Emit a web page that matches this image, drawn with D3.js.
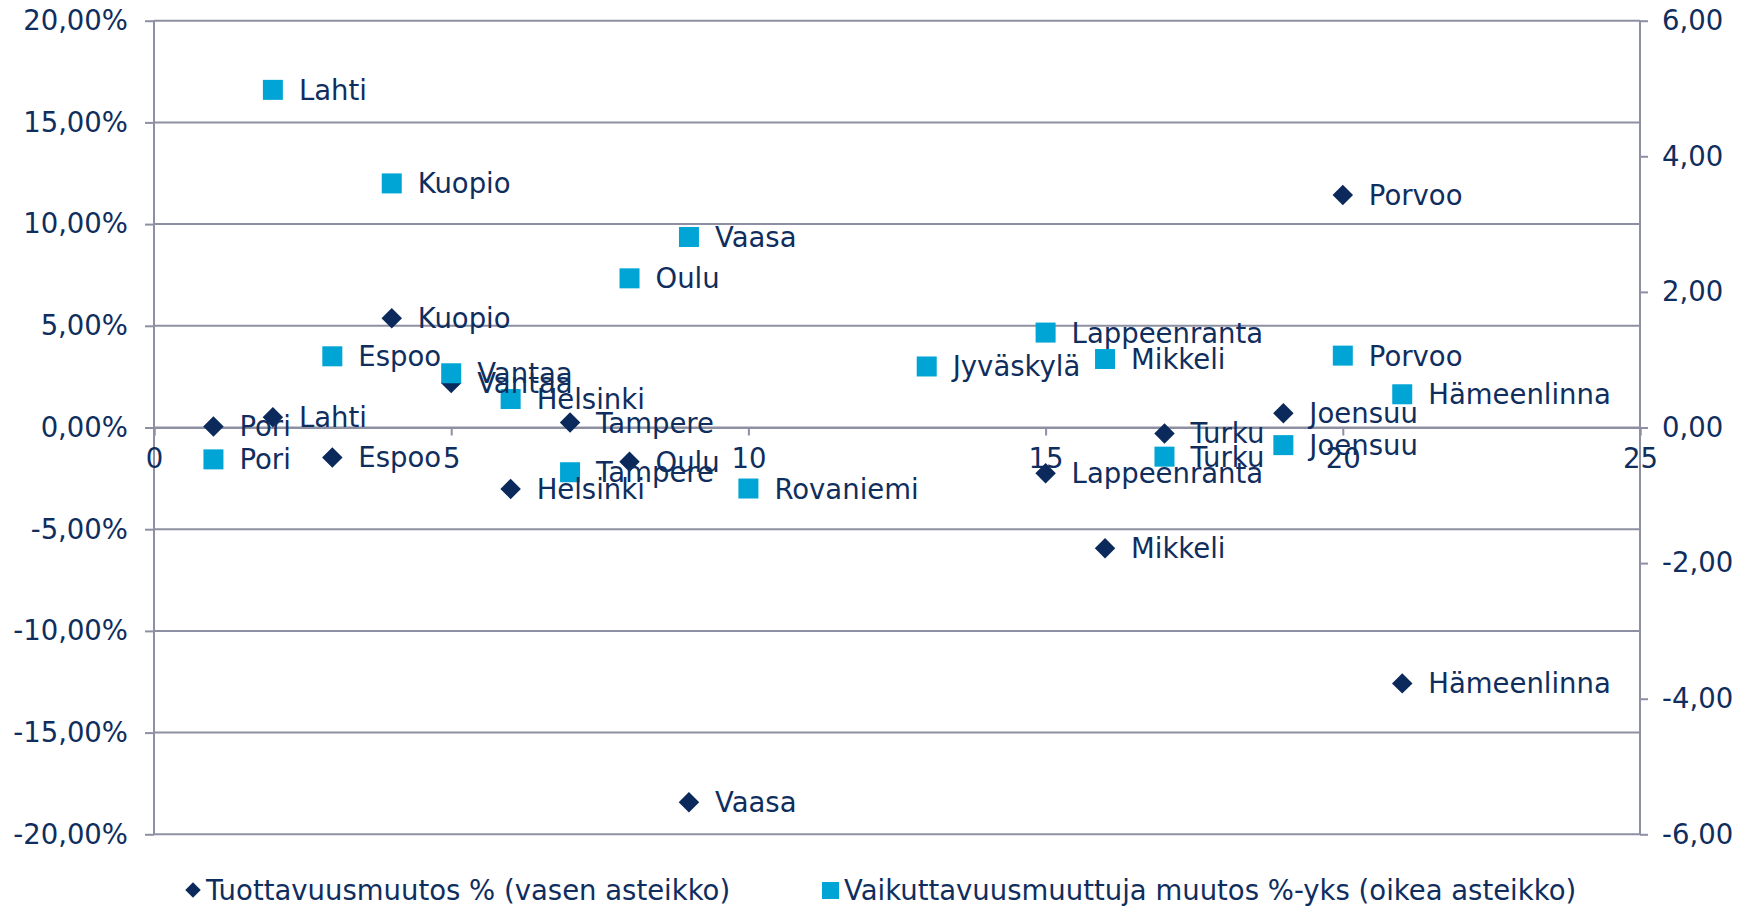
<!DOCTYPE html>
<html>
<head>
<meta charset="utf-8">
<script src="https://cdn.jsdelivr.net/npm/d3@7"></script>
<style>
  body { margin: 0; background: #fff; }
  text { font-family: "DejaVu Sans", Verdana, sans-serif; fill: #0f2e5e; }
</style>
</head>
<body>
<div id="chart"></div>
<script>
// city order and x position in the scatter
const cities = ["Pori", "Lahti", "Espoo", "Kuopio", "Vantaa", "Helsinki", "Tampere", "Oulu", "Vaasa",
  "Rovaniemi", "Jyväskylä", "Lappeenranta", "Mikkeli", "Turku", "Joensuu", "Porvoo", "Hämeenlinna"]
const xValues = [1, 2, 3, 4, 5, 6, 7, 8, 9, 10, 13, 15, 16, 17, 19, 20, 21]

// Tuottavuusmuutos % (left axis), null = no point
const tuottavuus = [0.05, 0.5, -1.47, 5.37, 2.19, -3.02, 0.24, -1.68, -18.43,
  null, null, -2.25, -5.94, -0.29, 0.70, 11.43, -12.58]

// Vaikuttavuusmuuttuja muutos %-yks (right axis)
const vaikuttavuus = [-0.47, 4.98, 1.05, 3.60, 0.80, 0.42, -0.66, 2.20, 2.81,
  -0.90, 0.90, 1.40, 1.01, -0.43, -0.26, 1.06, 0.49]

const leftTicks = [-20, -15, -10, -5, 0, 5, 10, 15, 20]
const rightTicks = [-6, -4, -2, 0, 2, 4, 6]
const xTicks = [0, 5, 10, 15, 20, 25]

const legendLabels = ["Tuottavuusmuutos % (vasen asteikko)", "Vaikuttavuusmuuttuja muutos %-yks (oikea asteikko)"]

const W = 1750, H = 906
const mLeft = 154, mRight = 1640, mTop = 20.7, mBottom = 834.3
const gridColor = "#8d90a2"
const navy = "#0b2a5b", cyan = "#00a5d5"
const fs = "27.5px"
const fmt = v => v.toFixed(2).replace(".", ",")

const svg = d3.select("#chart").append("svg")
  .attr("width", W)
  .attr("height", H)

const x = d3.scaleLinear().domain([0, 25]).range([mLeft, mRight])
const yL = d3.scaleLinear().domain([-20, 20]).range([mBottom, mTop])
const yR = d3.scaleLinear().domain([-6, 6]).range([mBottom, mTop])

const defs = svg.append("defs")
const f = defs.append("filter").attr("id", "shadow")
  .attr("x", "-5%").attr("y", "-200%").attr("width", "110%").attr("height", "500%")
f.append("feDropShadow")
  .attr("dx", 0).attr("dy", 3).attr("stdDeviation", 2.5)
  .attr("flood-color", "#000").attr("flood-opacity", 0.35)

// gridlines + left axis
const gLeft = svg.append("g").attr("transform", `translate(${mLeft},0)`)
  .call(d3.axisLeft(yL).tickValues(leftTicks).tickSize(9).tickPadding(17)
    .tickFormat(d => fmt(d) + "%"))
gLeft.select(".domain").remove()
gLeft.selectAll(".tick line").attr("stroke", gridColor).attr("stroke-width", 2)
gLeft.selectAll(".tick text").style("font-size", fs).attr("fill", "#0f2e5e")

svg.append("g").selectAll("line")
  .data(leftTicks)
  .enter().append("line")
    .attr("x1", mLeft).attr("x2", mRight)
    .attr("y1", d => yL(d)).attr("y2", d => yL(d))
    .attr("stroke", gridColor).attr("stroke-width", 2)

// right axis
const gRight = svg.append("g").attr("transform", `translate(${mRight},0)`)
  .call(d3.axisRight(yR).tickValues(rightTicks).tickSize(8).tickPadding(14).tickFormat(fmt))
gRight.select(".domain").remove()
gRight.selectAll(".tick line").attr("stroke", gridColor).attr("stroke-width", 2)
gRight.selectAll(".tick text").style("font-size", fs).attr("fill", "#0f2e5e")

// vertical axis lines
svg.append("line")
  .attr("x1", mLeft).attr("x2", mLeft).attr("y1", mTop).attr("y2", mBottom)
  .attr("stroke", gridColor).attr("stroke-width", 2)
svg.append("line")
  .attr("x1", mRight).attr("x2", mRight).attr("y1", mTop).attr("y2", mBottom)
  .attr("stroke", gridColor).attr("stroke-width", 2)

// x axis crossing at 0
const gX = svg.append("g").attr("transform", `translate(0,${yL(0)})`)
  .call(d3.axisBottom(x).tickValues(xTicks).tickSize(8).tickPadding(13))
gX.select(".domain").attr("stroke", gridColor).attr("stroke-width", 2)
gX.selectAll(".tick line").attr("stroke", gridColor).attr("stroke-width", 2)
gX.selectAll(".tick text").style("font-size", fs).attr("fill", "#0f2e5e")

const ptsL = cities.map((c, i) => ({ name: c, x: xValues[i], v: tuottavuus[i] })).filter(d => d.v !== null)
const ptsR = cities.map((c, i) => ({ name: c, x: xValues[i], v: vaikuttavuus[i] })).filter(d => d.v !== null)

const diamond = d3.symbol().type(d3.symbolSquare).size(210)

svg.append("g").selectAll("path")
  .data(ptsL)
  .enter().append("path")
    .attr("d", diamond)
    .attr("transform", d => `translate(${x(d.x)},${yL(d.v)}) rotate(45)`)
    .attr("fill", navy)

svg.append("g").selectAll("rect")
  .data(ptsR)
  .enter().append("rect")
    .attr("x", d => x(d.x) - 10)
    .attr("y", d => yR(d.v) - 10)
    .attr("width", 20).attr("height", 20)
    .attr("fill", cyan)

// data labels
svg.append("g").selectAll("text")
  .data(ptsL)
  .enter().append("text")
    .attr("x", d => x(d.x) + 26)
    .attr("y", d => yL(d.v) + 10)
    .style("font-size", fs)
    .text(d => d.name)

svg.append("g").selectAll("text")
  .data(ptsR)
  .enter().append("text")
    .attr("x", d => x(d.x) + 26)
    .attr("y", d => yR(d.v) + 10)
    .style("font-size", fs)
    .text(d => d.name)

// red zero line on top
svg.append("line")
  .attr("x1", mLeft - 12).attr("x2", mRight + 12)
  .attr("y1", yL(0)).attr("y2", yL(0))
  .attr("stroke", "#ff0000").attr("stroke-width", 5)
  .attr("filter", "url(#shadow)")

// legend
const legY = 890
const leg = svg.append("g")
leg.append("path")
  .attr("d", d3.symbol().type(d3.symbolSquare).size(120))
  .attr("transform", `translate(193,${legY}) rotate(45)`)
  .attr("fill", navy)
leg.append("text")
  .attr("x", 206).attr("y", legY + 10)
  .style("font-size", fs)
  .text(legendLabels[0])
leg.append("rect")
  .attr("x", 822).attr("y", legY - 8)
  .attr("width", 17).attr("height", 17)
  .attr("fill", cyan)
leg.append("text")
  .attr("x", 844).attr("y", legY + 10)
  .style("font-size", fs)
  .text(legendLabels[1])
</script>
</body>
</html>
